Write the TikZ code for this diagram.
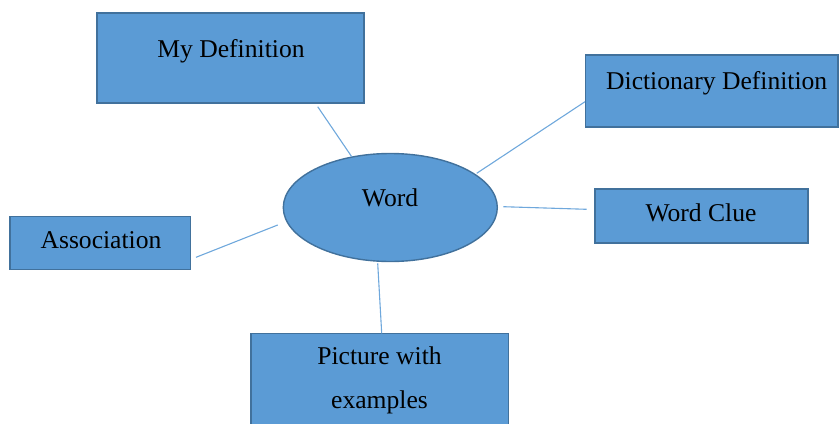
\documentclass[tikz,border=0pt]{standalone}
\usepackage{fontspec}
\setmainfont{Liberation Serif}
\usetikzlibrary{shapes.geometric}
\definecolor{fillblue}{HTML}{5B9BD5}
\definecolor{edgeblue}{HTML}{41719C}
\definecolor{lineblue}{HTML}{6FA8DC}
\begin{document}
\begin{tikzpicture}[x=0.5pt,y=-0.5pt,
  box/.style={draw=edgeblue, fill=fillblue, line width=0.7pt, rectangle, inner sep=0pt},
  oval/.style={draw=edgeblue, fill=fillblue, line width=0.7pt, ellipse, inner sep=0pt},
  lbl/.style={font=\fontsize{12.8pt}{22pt}\selectfont, text=black, inner sep=0pt, align=center},
  link/.style={draw=lineblue, line width=0.55pt}]
\useasboundingbox (0,0) rectangle (840,423);
% shapes
\node[box, minimum width=133.5pt, minimum height=45pt] (mydef) at (230.5,58) {};
\node[box, minimum width=126.25pt, minimum height=36pt] (dict) at (711.75,91) {};
\node[box, minimum width=106.5pt, minimum height=27pt] (clue) at (701.5,216) {};
\node[box, minimum width=90.35pt, minimum height=26.3pt] (assoc) at (100.3,243) {};
\node[box, minimum width=128.65pt, minimum height=73.3pt] (pict) at (379.7,406.7) {};
\node[oval, minimum width=107pt, minimum height=54pt] (word) at (390.3,207.5) {};
% labels
\node[lbl] (tmydef) at (231,51) {My Definition};
\node[lbl] (tdict) at (716.7,83) {Dictionary Definition};
\node[lbl] (tclue) at (701,213) {Word Clue};
\node[lbl] (tassoc) at (101,240) {Association};
\node[lbl] (tword) at (390,198) {Word};
\node[lbl] (tpict) at (379.5,380) {Picture with\\examples};
% connector ends
\coordinate (m1) at (317.7,106.7); \coordinate (m2) at (351.7,156.7);
\coordinate (d1) at (476.7,173.3); \coordinate (d2) at (585,101.7);
\coordinate (c1) at (503.3,206.7); \coordinate (c2) at (586.7,209.3);
\coordinate (a1) at (196,257.3);   \coordinate (a2) at (277.7,225);
\coordinate (p1) at (377.7,263.3); \coordinate (p2) at (381.7,333.3);
\draw[link] (m1) -- (m2);
\draw[link] (d1) -- (d2);
\draw[link] (c1) -- (c2);
\draw[link] (a1) -- (a2);
\draw[link] (p1) -- (p2);
\end{tikzpicture}
\end{document}
